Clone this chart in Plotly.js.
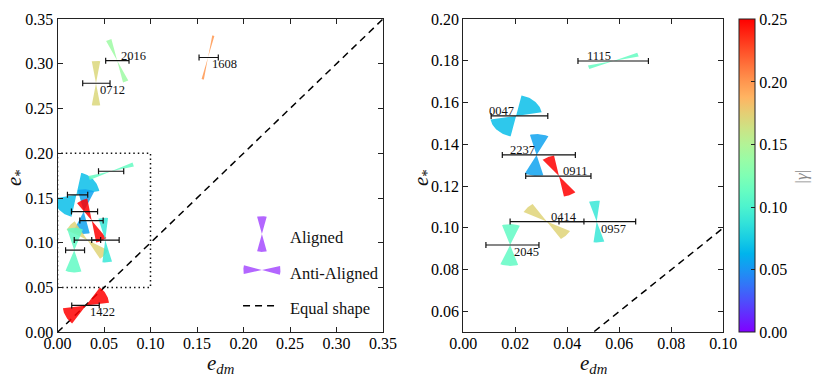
<!DOCTYPE html>
<html><head><meta charset="utf-8">
<script src="https://cdn.plot.ly/plotly-3.0.1.min.js"></script>
<style>html,body{margin:0;padding:0;background:#fff}</style>
</head><body><div id="chart" style="width:830px;height:378px"></div>
<script>
// ---- data ----
const names    = ['0047','1115','2237','0911','0414','0957','2045','0712','2016','1608','1422'];
const eDM      = [0.0203,0.0577,0.0282,0.0368,0.0321,0.0513,0.0180,0.0414,0.0642,0.1618,0.0306];
const eStar    = [0.1536,0.1799,0.1349,0.1248,0.1030,0.1030,0.0918,0.2782,0.3034,0.3070,0.0300];
const eDMlo    = [0.0107,0.0441,0.0150,0.0240,0.0180,0.0368,0.0087,0.0271,0.0518,0.1522,0.0153];
const eDMhi    = [0.0325,0.0712,0.0431,0.0491,0.0464,0.0663,0.0291,0.0565,0.0769,0.1729,0.0449];
const angle    = [46,71.5,6,-25,-48,-5,2,0,-21.5,13,59];      // misalignment, deg clockwise from vertical
const angleErr = [34,6,21,14,15,12,20,10.5,7,3,24];
const gamma    = [0.067,0.112,0.055,0.25,0.172,0.09,0.11,0.17,0.14,0.2,0.25];
const labelPos = ['ul','ul','ul','ur','ur','lr','lr','lr','ur','lr','lr'];
const equalLine = [0, 0.35];
const xRange1 = [0,0.35], yRange1 = [0,0.35];
const xRange2 = [0,0.10], yRange2 = [0.05,0.20];
const cbTicks = [0,0.05,0.10,0.15,0.20,0.25];
const gammaMax = 0.25;

// ---- helpers ----
function rainbow(t){
  t=Math.max(0,Math.min(1,t));
  const r=Math.min(1,Math.abs(2*t-0.5)), g=Math.sin(Math.PI*t), b=Math.cos(Math.PI*t/2);
  return [Math.round(r*255),Math.round(g*255),Math.round(Math.max(0,b)*255)];
}
const cscale=[]; for(let k=0;k<=20;k++){const c=rainbow(k/20); cscale.push([k/20,`rgb(${c[0]},${c[1]},${c[2]})`]);}
function bowtie(cx,cy,th,hw,rx,ry){
  const xs=[cx], ys=[cy];
  for(const base of [0,180]){
    const a0=th+base-hw, a1=th+base+hw, n=30;
    for(let k=0;k<=n;k++){const a=(a0+(a1-a0)*k/n)*Math.PI/180; xs.push(cx+rx*Math.sin(a)); ys.push(cy+ry*Math.cos(a));}
    xs.push(cx); ys.push(cy);
  }
  return {xs,ys};
}
const FONT='Liberation Serif, Times New Roman, serif';
const ALPHA=0.85;
const traces=[];
const panels=[{xa:'x',ya:'y',r:0.025,xr:xRange1,yr:yRange1},{xa:'x2',ya:'y2',r:0.01,xr:xRange2,yr:yRange2}];
panels.forEach((p,pi)=>{
  traces.push({type:'scatter',mode:'lines',x:equalLine,y:equalLine,xaxis:p.xa,yaxis:p.ya,
    line:{color:'#000',width:1.5,dash:'7px,5px'},hoverinfo:'skip',showlegend:false});
  names.forEach((nm,i)=>{
    const w=bowtie(eDM[i],eStar[i],angle[i],angleErr[i],p.r,p.r);
    const c=rainbow(gamma[i]/gammaMax);
    traces.push({type:'scatter',mode:'lines',x:w.xs,y:w.ys,xaxis:p.xa,yaxis:p.ya,fill:'toself',
      fillcolor:`rgba(${c[0]},${c[1]},${c[2]},${ALPHA})`,line:{width:0,color:'rgba(0,0,0,0)'},
      hoverinfo:'skip',showlegend:false});
  });
  const tr={type:'scatter',mode:'markers',x:eDM,y:eStar,xaxis:p.xa,yaxis:p.ya,
    marker:{size:1,opacity:0,color:gamma,cmin:0,cmax:gammaMax,colorscale:cscale,showscale:pi===0},
    error_x:{type:'data',symmetric:false,array:eDM.map((v,i)=>eDMhi[i]-v),arrayminus:eDM.map((v,i)=>v-eDMlo[i]),
      color:'#111',thickness:1.2,width:3},
    hoverinfo:'skip',showlegend:false};
  if(pi===0){
    tr.marker.colorbar={x:739.3/830,xanchor:'left',xpad:0,ypad:0,thickness:16.4,thicknessmode:'pixels',
      len:313.3/378,lenmode:'fraction',y:(378-332.3)/378,yanchor:'bottom',outlinewidth:1,outlinecolor:'#222',
      ticks:'inside',ticklen:4,tickcolor:'#222',tickvals:cbTicks,tickformat:'.2f',
      tickfont:{family:FONT,size:16,color:'#000'},borderwidth:0};
  }
  traces.push(tr);
});

// legend wedges (purple = gamma 0)
const legX=0.2198, legAligned=0.1098, legAnti=0.0696, legR=0.02;
const pc=rainbow(0);
[[legAligned,0],[legAnti,90]].forEach(([ly,th])=>{
  const w=bowtie(legX,ly,th,15,legR,legR);
  traces.push({type:'scatter',mode:'lines',x:w.xs,y:w.ys,xaxis:'x',yaxis:'y',fill:'toself',
    fillcolor:`rgba(${pc[0]},${pc[1]},${pc[2]},0.6)`,line:{width:0,color:'rgba(0,0,0,0)'},hoverinfo:'skip',showlegend:false});
});

const annotations=[];
const inRange=(i,xr,yr)=>eDM[i]>=xr[0]&&eDM[i]<=xr[1]&&eStar[i]>=yr[0]&&eStar[i]<=yr[1];
names.forEach((nm,i)=>{
  const inBox=inRange(i,xRange2,yRange2);
  const p=inBox?panels[1]:panels[0];
  const pos=labelPos[i];
  const a={x:eDM[i],y:eStar[i],xref:p.xa,yref:p.ya,text:nm,showarrow:false,
    font:{family:FONT,size:12.5,color:'#111'},borderpad:0};
  if(pos==='ul'){a.xanchor='right';a.yanchor='bottom';a.xshift=-1;a.yshift=-3;}
  else if(pos==='ur'){a.xanchor='left';a.yanchor='bottom';a.xshift=3;a.yshift=-3;}
  else {a.xanchor='left';a.yanchor='top';a.xshift=3;a.yshift=1;}
  annotations.push(a);
});
const legTextX=0.2482;
[['Aligned',legAligned],['Anti-Aligned',legAnti],['Equal shape',0.0297]].forEach(([t,y])=>{
  annotations.push({x:legTextX,y:y,xref:'x',yref:'y',text:t,showarrow:false,xanchor:'left',yanchor:'middle',
    yshift:-3,font:{family:FONT,size:16.5,color:'#111'}});
});
const xt='<i>e</i><sub><i>dm</i></sub>', yt='<i>e</i><sub>*</sub>';
['x domain','x2 domain'].forEach(r=>{
  annotations.push({x:0.5,xref:r,y:(378-364)/378,yref:'paper',text:xt,showarrow:false,xanchor:'center',yanchor:'middle',
    font:{family:FONT,size:21,color:'#111'}});
});
[15/830, 422/830].forEach(x=>{
  annotations.push({x:x,xref:'paper',y:(378-178)/378,yref:'paper',text:yt,showarrow:false,textangle:-90,
    xanchor:'center',yanchor:'middle',font:{family:FONT,size:21,color:'#111'}});
});
annotations.push({x:801.7/830,xref:'paper',y:(378-176.7)/378,yref:'paper',text:'|<i>γ</i>|',showarrow:false,
  textangle:-90,xanchor:'center',yanchor:'middle',font:{family:FONT,size:17,color:'#888'}});

const ax=(extra)=>Object.assign({showgrid:false,zeroline:false,showline:true,linecolor:'#222',linewidth:1,
  mirror:'ticks',ticks:'inside',ticklen:5,tickwidth:1,tickcolor:'#222',tickformat:'.2f',
  tickfont:{family:FONT,size:16,color:'#000'},fixedrange:true},extra);
const yDom=[(378-332.3)/378,(378-19)/378];
const layout={
  width:830,height:378,margin:{l:0,r:0,t:0,b:0},paper_bgcolor:'#fff',plot_bgcolor:'#fff',showlegend:false,
  xaxis:ax({domain:[57.5/830,383/830],range:xRange1,dtick:0.05,tick0:0,anchor:'y',ticklabelstandoff:-4}),
  yaxis:ax({domain:yDom,range:yRange1,dtick:0.05,tick0:0,anchor:'x'}),
  xaxis2:ax({domain:[463.3/830,723.3/830],range:xRange2,dtick:0.02,tick0:0,anchor:'y2',ticklabelstandoff:-4}),
  yaxis2:ax({domain:yDom,range:yRange2,dtick:0.02,tick0:0,anchor:'x2'}),
  shapes:[
    {type:'rect',xref:'x',yref:'y',x0:xRange2[0],x1:xRange2[1],y0:yRange2[0],y1:yRange2[1],
     line:{color:'#111',width:1.5,dash:'1.5px,3px'},layer:'below'},
    {type:'line',xref:'x',yref:'y',x0:0.1995,x1:0.2336,y0:0.0297,y1:0.0297,line:{color:'#000',width:1.5,dash:'7px,5px'}}
  ],
  annotations:annotations
};
Plotly.newPlot('chart',traces,layout,{displayModeBar:false,staticPlot:true});
</script></body></html>
